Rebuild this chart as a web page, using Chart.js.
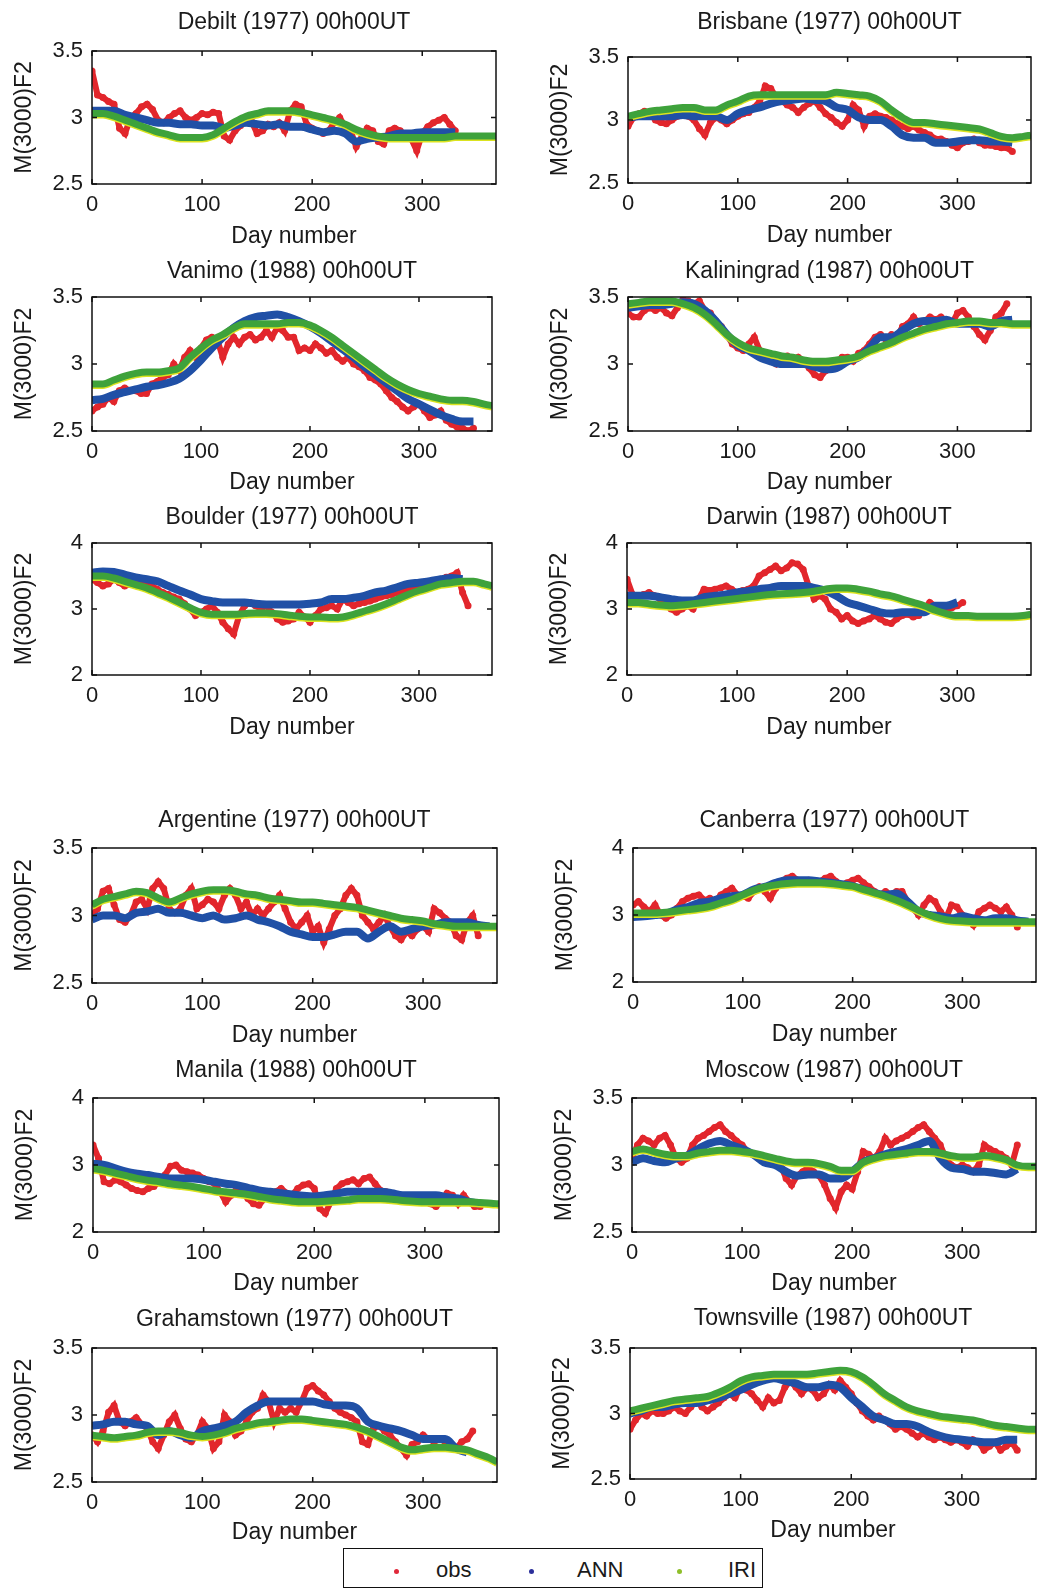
<!DOCTYPE html>
<html>
<head>
<meta charset="utf-8">
<title>M(3000)F2 stations</title>
<script src="https://cdn.jsdelivr.net/npm/chart.js@4/dist/chart.umd.min.js"></script>
<style>
  body { margin: 0; background: #fff; width: 1040px; height: 1590px; position: relative; overflow: hidden;
         font-family: "Liberation Sans", Arial, sans-serif; color: #1a1a1a; }
  canvas { position: absolute; }
  #legend { position: absolute; left: 343px; top: 1548px; width: 418px; height: 38px; border: 1.5px solid #111; }
  #legend .mk { position: absolute; top: 20px; width: 5px; height: 5px; border-radius: 50%; }
  #legend .lb { position: absolute; top: 9px; font-size: 22px; line-height: 24px; }
</style>
</head>
<body>
<div id="legend">
  <span class="mk" style="left:50px;background:#e0283a"></span><span class="lb" style="left:92px">obs</span>
  <span class="mk" style="left:185px;background:#2b2f9a"></span><span class="lb" style="left:233px">ANN</span>
  <span class="mk" style="left:333px;background:#8fbf2a"></span><span class="lb" style="left:384px">IRI</span>
</div>
<script>
// x positions (day number)
const obsDays = [0,5,10,15,20,25,30,35,40,45,50,55,60,65,70,75,80,85,90,95,100,105,110,115,120,125,130,135,140,145,150,155,160,165,170,175,180,185,190,195,200,205,210,215,220,225,230,235,240,245,250,255,260,265,270,275,280,285,290,295,300,305,310,315,320,325,330,335,340,345,350];
const fitDays = [0,10,20,30,40,50,60,70,80,90,100,110,120,130,140,150,160,170,180,190,200,210,220,230,240,250,260,270,280,290,300,310,320,330,340,350,360,367];
const xTickValues = [0, 100, 200, 300];
const yTicksNarrow = [2.5, 3, 3.5];
const yTicksWide = [2, 3, 4];

const stationTitles = [
  "Debilt (1977) 00h00UT", "Brisbane (1977) 00h00UT",
  "Vanimo (1988) 00h00UT", "Kaliningrad (1987) 00h00UT",
  "Boulder (1977) 00h00UT", "Darwin (1987) 00h00UT",
  "Argentine (1977) 00h00UT", "Canberra (1977) 00h00UT",
  "Manila (1988) 00h00UT", "Moscow (1987) 00h00UT",
  "Grahamstown (1977) 00h00UT", "Townsville (1987) 00h00UT"
];

const debiltObs = [3.35,3.17,3.15,3.12,3.1,2.92,2.88,3.0,3.03,3.08,3.1,3.06,2.98,2.96,3.0,3.03,3.05,3.0,2.98,3.0,3.03,3.02,3.04,3.03,2.86,2.83,2.9,2.94,3.0,2.97,2.88,2.9,2.95,2.93,2.96,2.9,3.05,3.1,3.08,2.95,2.92,2.9,2.88,2.9,2.96,3.0,2.93,2.9,2.78,2.85,2.92,2.9,2.82,2.8,2.9,2.92,2.9,2.86,2.84,2.75,2.88,2.93,2.96,2.98,3.0,2.95,2.9];
const debiltAnn = [3.05,3.05,3.05,3.02,3.0,2.98,2.96,2.96,2.95,2.95,2.94,2.94,2.92,2.94,2.96,2.95,2.94,2.95,2.93,2.93,2.91,2.89,2.9,2.88,2.82,2.84,2.85,2.86,2.88,2.88,2.89,2.89,2.89,2.89];
const debiltIri = [3.03,3.03,3.01,2.98,2.95,2.92,2.89,2.87,2.85,2.85,2.85,2.87,2.92,2.97,3.01,3.03,3.05,3.05,3.05,3.04,3.02,3.0,2.98,2.95,2.91,2.88,2.86,2.85,2.85,2.85,2.85,2.85,2.85,2.86,2.86,2.86,2.86,2.86];

const brisbaneObs = [2.95,3.02,3.05,3.07,3.05,3.0,2.98,2.97,3.0,3.03,3.04,3.03,3.0,2.93,2.88,2.98,3.02,3.0,2.97,3.0,3.03,3.05,3.06,3.1,3.15,3.27,3.25,3.18,3.15,3.12,3.1,3.06,3.1,3.13,3.15,3.1,3.05,3.02,2.98,2.95,3.0,3.12,3.08,2.95,3.03,3.05,3.03,3.02,3.0,2.97,2.95,2.93,2.95,2.92,2.9,2.88,2.85,2.85,2.83,2.8,2.78,2.82,2.83,2.85,2.82,2.8,2.8,2.79,2.78,2.78,2.75];
const brisbaneAnn = [3.02,3.03,3.03,3.03,3.03,3.04,3.03,3.03,3.03,3.0,3.05,3.08,3.1,3.13,3.15,3.16,3.17,3.16,3.15,3.1,3.08,3.02,3.0,3.0,2.95,2.88,2.86,2.86,2.82,2.82,2.83,2.84,2.84,2.83,2.83,2.82];
const brisbaneIri = [3.03,3.05,3.07,3.08,3.09,3.1,3.1,3.08,3.08,3.12,3.15,3.19,3.2,3.2,3.2,3.2,3.2,3.2,3.2,3.22,3.21,3.2,3.19,3.15,3.08,3.02,2.98,2.98,2.97,2.96,2.95,2.94,2.93,2.9,2.87,2.86,2.87,2.88];

const vanimoObs = [2.65,2.68,2.7,2.75,2.72,2.8,2.82,2.8,2.8,2.78,2.78,2.85,2.87,2.9,2.92,3.0,2.95,3.05,3.1,3.05,3.12,3.18,3.2,3.18,3.05,3.15,3.2,3.15,3.2,3.22,3.18,3.2,3.25,3.2,3.27,3.25,3.2,3.2,3.1,3.12,3.1,3.15,3.12,3.08,3.1,3.05,3.02,3.05,3.0,2.98,2.95,2.9,2.88,2.85,2.8,2.75,2.72,2.68,2.65,2.68,2.7,2.65,2.6,2.62,2.65,2.58,2.55,2.53,2.52,2.5,2.52];
const vanimoAnn = [2.73,2.74,2.77,2.79,2.81,2.83,2.84,2.86,2.89,2.95,3.03,3.12,3.2,3.27,3.32,3.35,3.36,3.37,3.35,3.32,3.28,3.23,3.17,3.11,3.05,2.98,2.92,2.86,2.8,2.74,2.7,2.66,2.62,2.59,2.57,2.57];
const vanimoIri = [2.85,2.85,2.88,2.91,2.93,2.94,2.94,2.95,2.97,3.05,3.12,3.18,3.22,3.27,3.3,3.3,3.3,3.3,3.31,3.31,3.29,3.25,3.2,3.14,3.08,3.02,2.96,2.9,2.85,2.81,2.78,2.76,2.74,2.73,2.73,2.72,2.7,2.69];

const kaliningradObs = [3.38,3.35,3.35,3.4,3.42,3.4,3.42,3.38,3.36,3.42,3.48,3.47,3.45,3.47,3.4,3.38,3.32,3.28,3.22,3.15,3.12,3.1,3.15,3.2,3.1,3.05,3.03,3.0,3.05,3.06,3.02,3.05,3.02,2.97,2.92,2.9,2.95,2.98,3.0,3.05,3.05,3.02,3.08,3.1,3.15,3.2,3.22,3.18,3.22,3.2,3.28,3.3,3.35,3.3,3.32,3.35,3.33,3.35,3.32,3.3,3.38,3.4,3.35,3.28,3.22,3.18,3.25,3.35,3.38,3.45];
const kaliningradAnn = [3.42,3.43,3.44,3.44,3.45,3.46,3.45,3.4,3.32,3.22,3.14,3.1,3.05,3.02,3.0,3.0,3.0,2.98,2.96,2.97,3.02,3.05,3.12,3.2,3.2,3.25,3.3,3.32,3.32,3.33,3.3,3.3,3.3,3.28,3.32,3.33];
const kaliningradIri = [3.45,3.46,3.47,3.47,3.47,3.45,3.42,3.37,3.3,3.22,3.16,3.12,3.1,3.08,3.06,3.05,3.03,3.02,3.02,3.03,3.04,3.06,3.1,3.13,3.16,3.2,3.23,3.26,3.28,3.3,3.31,3.32,3.32,3.31,3.31,3.3,3.3,3.3];

const boulderObs = [3.45,3.4,3.35,3.38,3.45,3.4,3.35,3.38,3.4,3.4,3.38,3.35,3.3,3.25,3.22,3.18,3.15,3.08,3.0,2.9,2.95,3.0,3.05,2.95,2.8,2.7,2.62,2.9,3.05,3.1,3.05,3.0,3.05,2.95,2.85,2.8,2.82,2.85,2.95,2.88,2.8,2.9,3.0,3.02,3.05,3.0,3.15,3.1,3.05,3.08,3.1,3.12,3.15,3.18,3.2,3.22,3.25,3.28,3.3,3.32,3.35,3.38,3.4,3.42,3.45,3.48,3.5,3.55,3.25,3.05];
const boulderAnn = [3.55,3.57,3.56,3.52,3.48,3.45,3.42,3.35,3.28,3.22,3.15,3.12,3.1,3.1,3.1,3.08,3.07,3.07,3.07,3.07,3.08,3.1,3.15,3.15,3.17,3.2,3.25,3.28,3.33,3.38,3.4,3.42,3.45,3.47,3.45];
const boulderIri = [3.5,3.5,3.47,3.42,3.37,3.32,3.25,3.18,3.1,3.02,2.95,2.92,2.92,2.92,2.93,2.94,2.94,2.93,2.91,2.89,2.88,2.88,2.87,2.88,2.92,2.97,3.02,3.08,3.15,3.22,3.28,3.33,3.38,3.4,3.42,3.42,3.38,3.35];

const darwinObs = [3.45,3.22,3.2,3.22,3.25,3.2,3.15,3.1,3.0,2.95,3.0,3.05,3.0,3.15,3.3,3.28,3.3,3.32,3.35,3.3,3.25,3.28,3.3,3.35,3.5,3.55,3.6,3.65,3.58,3.62,3.7,3.68,3.6,3.35,3.15,3.2,3.15,3.0,2.95,2.85,2.9,2.82,2.78,2.82,2.85,2.9,2.85,2.8,2.78,2.85,2.9,2.92,2.88,2.9,3.0,3.1,3.05,3.0,3.0,3.02,3.05,3.1];
const darwinAnn = [3.2,3.2,3.2,3.18,3.15,3.13,3.13,3.18,3.2,3.22,3.25,3.27,3.3,3.32,3.35,3.35,3.35,3.32,3.28,3.2,3.1,3.05,3.0,2.95,2.93,2.95,2.95,2.95,3.05,3.05,3.1];
const darwinIri = [3.1,3.1,3.08,3.06,3.05,3.06,3.08,3.1,3.12,3.14,3.16,3.18,3.2,3.22,3.23,3.24,3.25,3.27,3.3,3.32,3.32,3.3,3.27,3.23,3.2,3.15,3.1,3.05,2.98,2.93,2.9,2.9,2.89,2.89,2.89,2.89,2.9,2.92];

const argentineObs = [3.0,3.05,3.18,3.2,3.08,2.97,2.95,3.0,3.1,3.12,3.05,3.2,3.25,3.2,3.05,3.02,3.05,3.15,3.2,3.05,3.08,3.12,3.1,3.05,3.15,3.2,3.15,3.05,3.1,3.0,3.05,3.0,3.05,3.1,3.15,3.05,2.95,2.9,2.95,3.0,2.88,2.92,2.8,2.9,3.0,3.05,3.15,3.2,3.15,3.0,2.95,2.9,2.95,3.0,2.92,2.85,2.82,2.88,2.85,2.9,2.92,2.88,3.05,3.02,2.98,2.95,2.85,2.82,2.95,3.0,2.85];
const argentineAnn = [2.97,3.0,3.0,2.98,3.02,3.03,3.05,3.02,3.02,3.0,2.98,3.0,2.97,2.98,3.0,2.97,2.95,2.92,2.88,2.86,2.84,2.84,2.86,2.88,2.88,2.83,2.88,2.92,2.88,2.9,2.92,2.93,2.95,2.95,2.95,2.93,2.92];
const argentineIri = [3.08,3.12,3.14,3.16,3.18,3.17,3.13,3.1,3.13,3.16,3.18,3.19,3.19,3.18,3.16,3.15,3.13,3.12,3.11,3.1,3.1,3.09,3.08,3.07,3.06,3.04,3.02,3.0,2.98,2.97,2.96,2.94,2.93,2.92,2.92,2.92,2.92,2.92];

const canberraObs = [3.15,3.2,3.12,3.05,3.15,3.0,2.95,3.0,3.1,3.2,3.25,3.28,3.3,3.22,3.25,3.2,3.3,3.35,3.4,3.3,3.28,3.25,3.35,3.42,3.35,3.25,3.4,3.5,3.55,3.58,3.52,3.5,3.52,3.48,3.5,3.55,3.58,3.5,3.45,3.48,3.52,3.55,3.48,3.42,3.35,3.3,3.35,3.3,3.35,3.35,3.2,3.1,3.0,3.15,3.25,3.2,3.05,2.95,3.15,3.12,3.0,2.95,2.85,3.05,3.1,3.15,3.1,3.05,3.12,3.0,2.82];
const canberraAnn = [2.97,2.98,3.0,3.02,3.08,3.12,3.18,3.2,3.25,3.28,3.3,3.38,3.42,3.48,3.52,3.52,3.52,3.5,3.48,3.46,3.43,3.38,3.33,3.3,3.32,3.2,3.05,3.0,2.98,2.95,2.98,2.95,2.92,2.95,2.95,2.92,2.9];
const canberraIri = [3.03,3.03,3.03,3.04,3.06,3.08,3.1,3.13,3.18,3.23,3.3,3.37,3.42,3.45,3.47,3.48,3.48,3.48,3.47,3.45,3.43,3.38,3.33,3.28,3.22,3.15,3.07,3.0,2.95,2.92,2.91,2.9,2.9,2.9,2.9,2.9,2.9,2.9];

const manilaObs = [3.3,3.1,2.75,2.72,2.78,2.75,2.7,2.65,2.62,2.6,2.65,2.68,2.75,2.85,2.98,3.0,2.92,2.9,2.88,2.85,2.8,2.75,2.72,2.6,2.45,2.55,2.65,2.62,2.5,2.42,2.4,2.5,2.55,2.6,2.65,2.58,2.55,2.65,2.7,2.72,2.65,2.35,2.28,2.45,2.65,2.72,2.75,2.78,2.72,2.8,2.82,2.72,2.62,2.6,2.55,2.52,2.5,2.5,2.48,2.46,2.45,2.42,2.38,2.45,2.58,2.55,2.42,2.55,2.45,2.38,2.38];
const manilaAnn = [3.02,3.0,2.95,2.9,2.87,2.85,2.82,2.8,2.8,2.8,2.78,2.75,2.72,2.7,2.66,2.62,2.6,2.58,2.56,2.54,2.53,2.55,2.57,2.6,2.6,2.6,2.6,2.58,2.55,2.55,2.55,2.55,2.52,2.5,2.45,2.42];
const manilaIri = [2.95,2.92,2.88,2.84,2.8,2.77,2.75,2.72,2.7,2.68,2.65,2.62,2.6,2.58,2.56,2.53,2.5,2.48,2.46,2.45,2.45,2.46,2.47,2.48,2.5,2.5,2.5,2.49,2.47,2.46,2.45,2.45,2.45,2.45,2.45,2.44,2.43,2.42];

const moscowObs = [3.05,3.15,3.2,3.18,3.15,3.2,3.22,3.15,3.05,3.02,3.05,3.15,3.2,3.22,3.25,3.28,3.3,3.25,3.22,3.18,3.15,3.1,3.08,3.05,3.02,3.05,3.02,3.0,2.9,2.85,2.92,2.95,2.98,2.95,2.92,2.85,2.75,2.68,2.8,2.85,2.82,2.95,3.1,3.08,3.05,3.1,3.2,3.15,3.18,3.2,3.22,3.25,3.28,3.3,3.25,3.2,3.15,3.05,3.0,2.98,3.0,2.98,2.95,3.0,3.15,3.12,3.1,3.08,3.05,3.0,3.15];
const moscowAnn = [3.02,3.05,3.03,3.02,3.05,3.07,3.12,3.16,3.18,3.15,3.12,3.08,3.02,3.0,2.95,2.92,2.93,2.93,2.9,2.9,2.95,3.02,3.05,3.08,3.1,3.12,3.15,3.18,3.05,2.98,2.97,2.95,2.95,2.94,2.93,2.97];
const moscowIri = [3.1,3.12,3.1,3.08,3.07,3.07,3.09,3.1,3.11,3.11,3.1,3.09,3.07,3.05,3.03,3.02,3.02,3.01,2.99,2.96,2.96,3.02,3.05,3.07,3.08,3.09,3.1,3.1,3.09,3.07,3.06,3.06,3.07,3.06,3.04,3.0,2.99,2.99];

const grahamstownObs = [2.85,2.8,2.88,3.02,3.07,2.95,2.92,2.95,2.98,2.93,2.9,2.8,2.75,2.85,2.95,3.0,2.9,2.82,2.8,2.85,2.95,2.9,2.75,2.8,3.0,2.95,2.85,2.88,2.95,3.02,3.05,3.15,3.1,2.95,3.05,3.02,3.05,3.02,3.1,3.2,3.22,3.18,3.15,3.1,3.05,3.02,3.0,2.98,2.95,2.8,2.78,2.9,2.92,2.88,2.85,2.8,2.75,2.7,2.78,2.8,2.85,2.82,2.8,2.82,2.8,2.78,2.75,2.8,2.82,2.88];
const grahamstownAnn = [2.92,2.93,2.95,2.95,2.93,2.92,2.85,2.88,2.85,2.83,2.88,2.9,2.92,2.95,3.02,3.07,3.1,3.1,3.1,3.1,3.1,3.08,3.07,3.07,3.05,2.95,2.92,2.9,2.88,2.85,2.82,2.82,2.82,2.75,2.72];
const grahamstownIri = [2.85,2.84,2.83,2.84,2.85,2.87,2.88,2.88,2.87,2.85,2.84,2.85,2.87,2.9,2.92,2.94,2.95,2.96,2.97,2.97,2.96,2.95,2.94,2.93,2.91,2.88,2.84,2.8,2.76,2.74,2.75,2.76,2.76,2.75,2.74,2.71,2.68,2.65];

const townsvilleObs = [2.88,2.95,3.0,2.98,3.02,3.0,3.0,3.02,3.05,3.02,3.0,3.05,3.1,3.05,3.02,3.05,3.08,3.12,3.15,3.12,3.2,3.18,3.15,3.1,3.05,3.12,3.08,3.1,3.2,3.25,3.2,3.15,3.2,3.18,3.12,3.15,3.22,3.18,3.25,3.2,3.15,3.08,3.02,2.98,2.95,2.98,2.95,2.92,2.88,2.9,2.88,2.85,2.82,2.85,2.82,2.8,2.82,2.8,2.78,2.8,2.78,2.75,2.8,2.78,2.72,2.75,2.78,2.72,2.75,2.78,2.72];
const townsvilleAnn = [3.0,3.02,3.05,3.05,3.07,3.08,3.08,3.1,3.12,3.15,3.18,3.22,3.25,3.27,3.25,3.23,3.2,3.2,3.22,3.2,3.12,3.05,2.98,2.95,2.92,2.92,2.9,2.86,2.83,2.81,2.8,2.79,2.78,2.78,2.8,2.8];
const townsvilleIri = [3.02,3.04,3.06,3.08,3.1,3.11,3.12,3.13,3.16,3.2,3.25,3.28,3.29,3.3,3.3,3.3,3.3,3.31,3.32,3.33,3.32,3.28,3.22,3.15,3.1,3.05,3.02,3.0,2.98,2.97,2.96,2.95,2.93,2.91,2.9,2.89,2.88,2.88];

// which arrays go in which panel
const panelSeries = [
  [debiltObs, debiltAnn, debiltIri, yTicksNarrow],
  [brisbaneObs, brisbaneAnn, brisbaneIri, yTicksNarrow],
  [vanimoObs, vanimoAnn, vanimoIri, yTicksNarrow],
  [kaliningradObs, kaliningradAnn, kaliningradIri, yTicksNarrow],
  [boulderObs, boulderAnn, boulderIri, yTicksWide],
  [darwinObs, darwinAnn, darwinIri, yTicksWide],
  [argentineObs, argentineAnn, argentineIri, yTicksNarrow],
  [canberraObs, canberraAnn, canberraIri, yTicksWide],
  [manilaObs, manilaAnn, manilaIri, yTicksWide],
  [moscowObs, moscowAnn, moscowIri, yTicksNarrow],
  [grahamstownObs, grahamstownAnn, grahamstownIri, yTicksNarrow],
  [townsvilleObs, townsvilleAnn, townsvilleIri, yTicksNarrow]
];

// plot boxes on the page: [left, top, right, bottom], title centre y, gap to "Day number"
const panelBoxes = [
  { box: [92, 51, 497, 184], titleY: 22, gap: 53 },    { box: [628, 57, 1032, 183], titleY: 22, gap: 53 },
  { box: [92, 297, 493, 431], titleY: 271, gap: 52 },  { box: [628, 297, 1032, 431], titleY: 271, gap: 52 },
  { box: [92, 543, 493, 675], titleY: 517, gap: 53 },  { box: [627, 543, 1032, 675], titleY: 517, gap: 53 },
  { box: [92, 848, 498, 983], titleY: 820, gap: 53 },  { box: [633, 848, 1038, 982], titleY: 820, gap: 53 },
  { box: [93, 1098, 500, 1232], titleY: 1070, gap: 52 }, { box: [632, 1098, 1039, 1232], titleY: 1070, gap: 52 },
  { box: [92, 1348, 498, 1482], titleY: 1319, gap: 51 }, { box: [630, 1348, 1037, 1479], titleY: 1318, gap: 52 }
];

const RED = "#e2262c", BLUE = "#2050a6", GREEN = "#3ea23b", YELLOW = "#dbe31f";
const FONT = "'Liberation Sans', Arial, sans-serif";
Chart.defaults.font.family = FONT;
Chart.defaults.color = "#1a1a1a";

const toPoints = (days, vals) => vals.map((v, i) => ({ x: days[i], y: v }));

// matlab style box with inward ticks on all four sides
const framePlugin = {
  id: "frame",
  afterDatasetsDraw(chart) {
    const { ctx, chartArea: { left, top, right, bottom }, scales: { x, y } } = chart;
    ctx.save();
    ctx.strokeStyle = "#111";
    ctx.lineWidth = 1.5;
    ctx.strokeRect(left, top, right - left, bottom - top);
    ctx.beginPath();
    x.ticks.forEach(t => {
      const px = x.getPixelForValue(t.value);
      ctx.moveTo(px, bottom); ctx.lineTo(px, bottom - 5);
      ctx.moveTo(px, top); ctx.lineTo(px, top + 5);
    });
    y.ticks.forEach(t => {
      const py = y.getPixelForValue(t.value);
      ctx.moveTo(left, py); ctx.lineTo(left + 5, py);
      ctx.moveTo(right, py); ctx.lineTo(right - 5, py);
    });
    ctx.stroke();
    ctx.restore();
  }
};

// thin yellow fringe under the IRI band
const iriFringe = {
  id: "iriFringe",
  beforeDatasetDraw(chart, args) {
    if (args.index !== 2) return;
    const ctx = chart.ctx;
    ctx.save();
    ctx.shadowColor = YELLOW;
    ctx.shadowOffsetY = 1.5;
    ctx.shadowBlur = 0;
  },
  afterDatasetDraw(chart, args) {
    if (args.index !== 2) return;
    chart.ctx.restore();
  }
};

panelBoxes.forEach((p, i) => {
  const [l, t, r, b] = p.box;
  const [obs, ann, iri, yTicks] = panelSeries[i];
  const left = l - 92;
  const top = p.titleY - 13;
  const right = Math.min(r + 3, 1040);
  const xAxisH = 68;

  const canvas = document.createElement("canvas");
  canvas.width = right - left;
  canvas.height = b + xAxisH - top;
  canvas.style.left = left + "px";
  canvas.style.top = top + "px";
  document.body.appendChild(canvas);

  new Chart(canvas, {
    type: "line",
    data: {
      datasets: [
        { label: "obs", data: toPoints(obsDays, obs), borderColor: RED, backgroundColor: RED,
          borderWidth: 6, pointRadius: 3.5, pointBorderWidth: 0, tension: 0, order: 3 },
        { label: "ANN", data: toPoints(fitDays, ann), borderColor: BLUE, backgroundColor: BLUE,
          borderWidth: 8, pointRadius: 0, cubicInterpolationMode: "monotone", order: 2 },
        { label: "IRI", data: toPoints(fitDays, iri), borderColor: GREEN, backgroundColor: GREEN,
          borderWidth: 7, pointRadius: 0, cubicInterpolationMode: "monotone", order: 1 }
      ]
    },
    options: {
      responsive: false,
      animation: false,
      events: [],
      layout: { padding: { top: 2, right: right - r, left: 0, bottom: 0 } },
      plugins: {
        legend: { display: false },
        tooltip: { enabled: false },
        title: {
          display: true, fullSize: false, text: stationTitles[i], color: "#1a1a1a",
          font: { size: 23, weight: "normal", lineHeight: 1 },
          padding: { top: 0, bottom: t - p.titleY - 12 }
        }
      },
      scales: {
        x: {
          type: "linear", min: 0, max: 367,
          afterBuildTicks: s => { s.ticks = xTickValues.map(v => ({ value: v })); },
          afterFit: s => { s.height = xAxisH; },
          grid: { display: false, drawTicks: false },
          border: { display: false },
          ticks: { padding: 8, font: { size: 22 }, color: "#1a1a1a", maxRotation: 0 },
          title: { display: true, text: "Day number", color: "#1a1a1a",
                   font: { size: 23, lineHeight: 1 }, padding: { top: 0, bottom: xAxisH - 11.5 - p.gap } }
        },
        y: {
          type: "linear", min: yTicks[0], max: yTicks[yTicks.length - 1],
          afterBuildTicks: s => { s.ticks = yTicks.map(v => ({ value: v })); },
          afterFit: s => { s.width = 92; },
          grid: { display: false, drawTicks: false },
          border: { display: false },
          ticks: { padding: 9, font: { size: 22 }, color: "#1a1a1a", callback: v => String(v) },
          title: { display: true, text: "M(3000)F2", color: "#1a1a1a",
                   font: { size: 23, lineHeight: 1 }, padding: { top: 13.5, bottom: 0 } }
        }
      }
    },
    plugins: [framePlugin, iriFringe]
  });
});
</script>
</body>
</html>
